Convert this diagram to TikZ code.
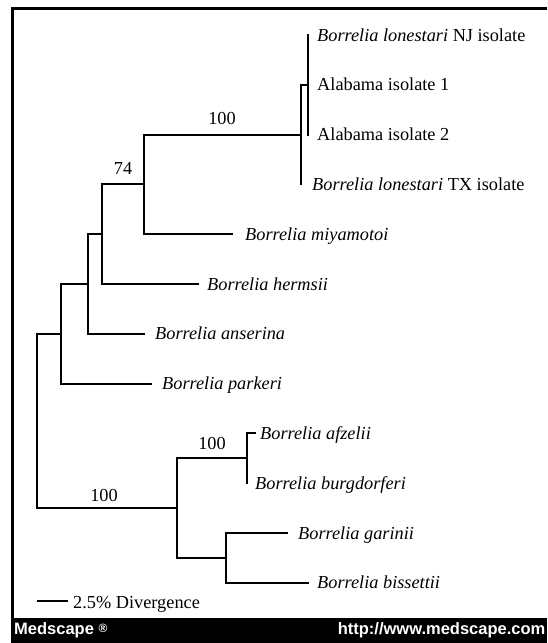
\documentclass[tikz,border=0pt]{standalone}
\usepackage{fontspec}
\setmainfont{Liberation Serif}
\newfontfamily\footfont{Liberation Sans}
\begin{document}
\begin{tikzpicture}[x=1pt,y=-1pt,
  branch/.style={line width=2pt, line cap=rect, line join=miter},
  leaf/.style={anchor=west, inner sep=0pt, text height=12pt, text depth=0pt, font=\fontsize{18.3}{20}\selectfont},
  boot/.style={anchor=center, inner sep=0pt, text height=12pt, text depth=0pt, font=\fontsize{18.3}{20}\selectfont},
  foot/.style={inner sep=0pt, text=white, font=\footfont\bfseries\fontsize{16.5}{18}\selectfont}]
\useasboundingbox (0,0) rectangle (547,643);
\fill[white] (0,0) rectangle (547,643);
% frame
\draw[line width=3pt] (12.5,643) -- (12.5,8.5) -- (547,8.5);
% tips and internal nodes
\coordinate (tNJ) at (308,35);
\coordinate (U) at (308,84.8);
\coordinate (tA2) at (308,134.6);
\coordinate (T) at (301,134.6);
\coordinate (tTX) at (301,184.4);
\coordinate (S) at (144,184.4);
\coordinate (tMi) at (232,234.2);
\coordinate (R) at (102,234.2);
\coordinate (tHe) at (198,284);
\coordinate (Q) at (88,284);
\coordinate (tAn) at (144,333.8);
\coordinate (P) at (61,333.8);
\coordinate (tPa) at (151,383.6);
\coordinate (root) at (37,420);
\coordinate (L) at (177,508.1);
\coordinate (V) at (247,458.3);
\coordinate (tAf) at (255,433.4);
\coordinate (tBu) at (247,483.2);
\coordinate (W) at (226,557.9);
\coordinate (tGa) at (287,533);
\coordinate (tBi) at (308,582.8);
% branches
\draw[branch] (tNJ) -| (U) |- (tA2);
\draw[branch] (U) -| (T) |- (tTX);
\draw[branch] (T) -| (S) |- (tMi);
\draw[branch] (S) -| (R) |- (tHe);
\draw[branch] (R) -| (Q) |- (tAn);
\draw[branch] (Q) -| (P) |- (tPa);
\draw[branch] (P) -| (root) |- (L);
\draw[branch] (V) -| (L) |- (W);
\draw[branch] (tAf) -| (V) |- (tBu);
\draw[branch] (tGa) -| (W) |- (tBi);
% leaf labels
\node[leaf] (lNJ) at (317,35) {\textit{Borrelia lonestari} NJ isolate};
\node[leaf] (lA1) at (317,84.8) {Alabama isolate 1};
\node[leaf] (lA2) at (317,134.6) {Alabama isolate 2};
\node[leaf] (lTX) at (312,184.4) {\textit{Borrelia lonestari} TX isolate};
\node[leaf] (lMi) at (245,234.2) {\textit{Borrelia miyamotoi}};
\node[leaf] (lHe) at (207,284) {\textit{Borrelia hermsii}};
\node[leaf] (lAn) at (155,333.8) {\textit{Borrelia anserina}};
\node[leaf] (lPa) at (162,383.6) {\textit{Borrelia parkeri}};
\node[leaf] (lAf) at (260,433.4) {\textit{Borrelia afzelii}};
\node[leaf] (lBu) at (255,483.2) {\textit{Borrelia burgdorferi}};
\node[leaf] (lGa) at (298,533) {\textit{Borrelia garinii}};
\node[leaf] (lBi) at (317,582.8) {\textit{Borrelia bissettii}};
% bootstrap values
\node[boot] (b1) at (222,118) {100};
\node[boot] (b2) at (123,168) {74};
\node[boot] (b3) at (212,443) {100};
\node[boot] (b4) at (104,495) {100};
% scale bar
\coordinate (sb1) at (37,601);
\coordinate (sb2) at (68,601);
\draw[line width=2pt] (sb1) -- (sb2);
\node[leaf] (sbl) at (73,602) {2.5\% Divergence};
% footer
\fill[black] (11,618) rectangle (547,643);
\node[foot, anchor=west] (med) at (14,630.5) {Medscape {\fontsize{12}{13}\selectfont\raisebox{2pt}{®}}};
\node[foot, anchor=east] (url) at (545.5,630.5) {http://www.medscape.com};
\end{tikzpicture}
\end{document}
